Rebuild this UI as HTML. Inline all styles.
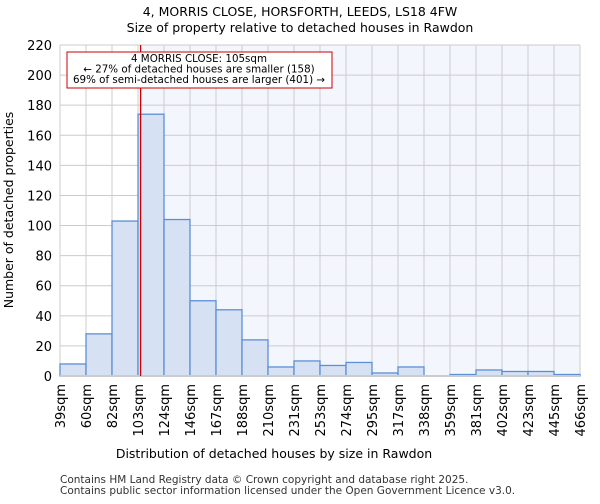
<!DOCTYPE html>
<html><head><meta charset="utf-8"><style>
body{margin:0;background:#fff;font-family:"DejaVu Sans","Liberation Sans",sans-serif}
</style></head><body>
<svg id="c" width="600" height="500" xmlns="http://www.w3.org/2000/svg" font-family="DejaVu Sans, Liberation Sans, sans-serif">
<text x="300" y="16" text-anchor="middle" font-size="12.5">4, MORRIS CLOSE, HORSFORTH, LEEDS, LS18 4FW</text>
<text x="300" y="32" text-anchor="middle" font-size="12.5">Size of property relative to detached houses in Rawdon</text>
<g id="plot"></g>
<text x="274" y="458" text-anchor="middle" font-size="12.5">Distribution of detached houses by size in Rawdon</text>
<text transform="translate(13,210) rotate(-90)" text-anchor="middle" font-size="12.5">Number of detached properties</text>
<text x="60" y="483" font-size="10.5" fill="#333">Contains HM Land Registry data © Crown copyright and database right 2025.</text>
<text x="60" y="494" font-size="10.5" fill="#333">Contains public sector information licensed under the Open Government Licence v3.0.</text>
</svg>
<script>
const categories=["39sqm","60sqm","82sqm","103sqm","124sqm","146sqm","167sqm","188sqm","210sqm","231sqm","253sqm","274sqm","295sqm","317sqm","338sqm","359sqm","381sqm","402sqm","423sqm","445sqm","466sqm"];
const counts=[8,28,103,174,104,50,44,24,6,10,7,9,2,6,0,1,4,3,3,1];
const yTicks=[0,20,40,60,80,100,120,140,160,180,200,220];
const propertyPos=3.1;
const NS="http://www.w3.org/2000/svg";
const g=document.getElementById('plot');
const L=60,R=580,T=45,B=376,yMax=220;
const n=counts.length,bw=(R-L)/n;
const x=i=>L+i*bw;
const y=v=>B-(v/yMax)*(B-T);
function mk(t,a){const e=document.createElementNS(NS,t);for(const k in a)e.setAttribute(k,a[k]);g.appendChild(e);return e;}
const px=x(propertyPos);
let e=mk('rect',{x:L,y:T,width:px-L,height:B-T,fill:'#ffffff'});


e=mk('rect',{x:px,y:T,width:R-px,height:B-T,fill:'#f3f6fd'});


yTicks.forEach(v=>{
 e=mk('line',{x1:L,x2:R,y1:y(v),y2:y(v),stroke:'#cccccc'});
 
 
 e=mk('text',{x:L-8,y:y(v)+5,'text-anchor':'end','font-size':13});
 e.textContent=v;
 
 
});
categories.forEach((c,i)=>{
 e=mk('line',{x1:x(i),x2:x(i),y1:T,y2:B,stroke:'#cccccc'});
 
 
 e=mk('text',{transform:`translate(${x(i)+5},${B+8}) rotate(-90)`,'text-anchor':'end','font-size':13});
 e.textContent=c;
 
 
});
counts.forEach((v,i)=>{
 e=mk('rect',{x:x(i),y:y(v),width:bw,height:B-y(v),fill:'#d6e2f3',stroke:'#5b8fd6','stroke-width':1.3});
 
 
});
e=mk('line',{x1:L,x2:R,y1:B,y2:B,stroke:'#cccccc','stroke-width':2});


e=mk('line',{x1:px,x2:px,y1:T,y2:B,stroke:'#cc0000','stroke-width':1.3});


e=mk('rect',{x:67,y:52,width:265,height:36,fill:'#fff',stroke:'#cc0000','stroke-width':1});


["4 MORRIS CLOSE: 105sqm","← 27% of detached houses are smaller (158)","69% of semi-detached houses are larger (401) →"].forEach((t,i)=>{
 e=mk('text',{x:199,y:62+i*10.5,'text-anchor':'middle','font-size':10.3});
 e.textContent=t;
 
 
});
</script>
</body></html>
